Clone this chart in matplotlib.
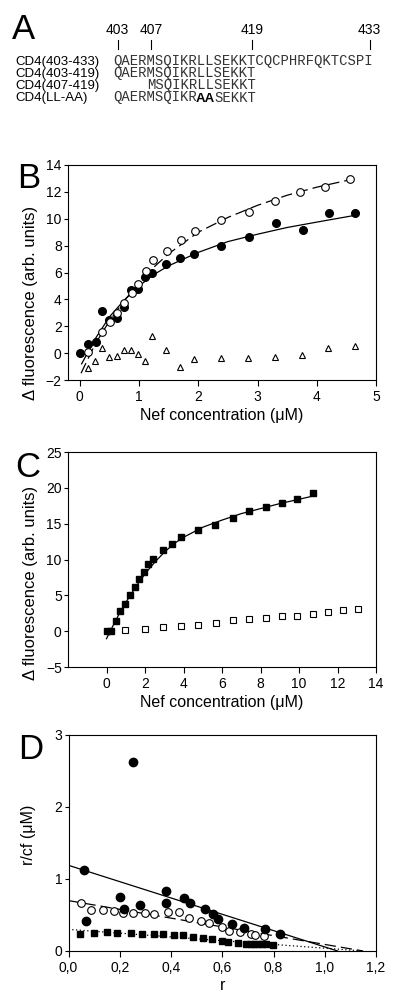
import matplotlib

matplotlib.use("Agg")
import matplotlib.pyplot as plt
from matplotlib.lines import Line2D

plt.rcParams["font.family"] = ["Liberation Sans", "DejaVu Sans"]

# ---- panel A: peptide sequences ----
seq_full = "QAERMSQIKRLLSEKKTCQCPHRFQKTCSPI"
seq_labels = ["CD4(403-433)", "CD4(403-419)", "CD4(407-419)", "CD4(LL-AA)"]
seq_starts = [403, 403, 407, 403]
seq_ends = [433, 419, 419, 419]
residue_marks = [403, 407, 419, 433]
mutated = [413, 414]  # LL -> AA in CD4(LL-AA)

# ---- panel B ----
b_filled_x = [0, 0.14, 0.27, 0.37, 0.50, 0.62, 0.74, 0.86, 0.98, 1.10, 1.22, 1.45,
              1.69, 1.92, 2.38, 2.85, 3.31, 3.76, 4.20, 4.64]
b_filled_y = [0, 0.7, 0.8, 3.1, 2.45, 2.65, 3.45, 4.7, 4.8, 5.65, 5.95, 6.65,
              7.1, 7.35, 8.0, 8.65, 9.7, 9.15, 10.4, 10.4]
b_open_x = [0.14, 0.38, 0.51, 0.63, 0.75, 0.88, 0.99, 1.11, 1.23, 1.47, 1.71, 1.95,
            2.39, 2.85, 3.29, 3.72, 4.14, 4.56]
b_open_y = [0.1, 1.6, 2.35, 3.0, 3.75, 4.5, 5.15, 6.1, 6.95, 7.6, 8.45, 9.1,
            9.9, 10.5, 11.3, 12.0, 12.35, 12.95]
b_tri_x = [0.13, 0.25, 0.37, 0.49, 0.62, 0.74, 0.86, 0.98, 1.10, 1.22, 1.46, 1.69,
           1.92, 2.39, 2.84, 3.30, 3.75, 4.19, 4.64]
b_tri_y = [-1.1, -0.55, 0.35, -0.3, -0.2, 0.25, 0.25, -0.05, -0.55, 1.25, 0.2, -1.0,
           -0.4, -0.35, -0.35, -0.3, -0.15, 0.4, 0.55]
b_fit_solid_x = [0.03, 0.25, 0.5, 0.75, 1.0, 1.25, 1.5, 2.0, 2.5, 3.0, 3.5, 4.0, 4.64]
b_fit_solid_y = [-0.8, 1.0, 2.7, 3.95, 5.0, 5.85, 6.5, 7.5, 8.3, 8.85, 9.35, 9.75, 10.25]
b_fit_dash_x = [0.02, 0.25, 0.5, 0.75, 1.0, 1.25, 1.5, 2.0, 2.5, 3.0, 3.5, 4.0, 4.56]
b_fit_dash_y = [-1.5, 0.6, 2.4, 3.9, 5.2, 6.4, 7.4, 9.0, 10.1, 11.0, 11.75, 12.35, 12.9]

# ---- panel C ----
c_filled_x = [0, 0.24, 0.48, 0.72, 0.96, 1.22, 1.46, 1.70, 1.94, 2.18, 2.44, 2.92,
              3.39, 3.85, 4.76, 5.66, 6.57, 7.41, 8.26, 9.10, 9.91, 10.72]
c_filled_y = [0, 0, 1.4, 2.8, 3.8, 5.1, 6.2, 7.3, 8.3, 9.35, 10.1, 11.3,
              12.15, 13.1, 14.1, 14.8, 15.8, 16.7, 17.3, 17.9, 18.5, 19.3]
c_open_x = [0.98, 1.98, 2.92, 3.85, 4.76, 5.68, 6.57, 7.41, 8.26, 9.10, 9.91, 10.72,
            11.51, 12.26, 13.04]
c_open_y = [0.1, 0.3, 0.6, 0.7, 0.85, 1.15, 1.6, 1.75, 1.9, 2.05, 2.1, 2.45,
            2.7, 2.95, 3.1]
c_fit_x = [0.0, 0.25, 0.5, 0.75, 1.0, 1.5, 2.0, 2.5, 3.0, 3.5, 4.0, 5.0, 6.0, 7.0,
           8.0, 9.0, 10.0, 10.72]
c_fit_y = [-1.05, 0.3, 1.6, 2.9, 4.0, 6.1, 8.0, 9.6, 11.0, 12.2, 13.1, 14.5, 15.5,
           16.4, 17.1, 17.8, 18.4, 18.85]

# ---- panel D: Scatchard ----
d_filled_x = [0.059, 0.070, 0.202, 0.217, 0.253, 0.279, 0.380, 0.381, 0.452, 0.474,
              0.531, 0.565, 0.583, 0.637, 0.686, 0.767, 0.824]
d_filled_y = [1.12, 0.42, 0.755, 0.58, 2.63, 0.64, 0.84, 0.67, 0.73, 0.66,
              0.59, 0.51, 0.44, 0.37, 0.315, 0.30, 0.23]
d_open_x = [0.048, 0.089, 0.133, 0.177, 0.214, 0.253, 0.297, 0.335, 0.388, 0.432,
            0.471, 0.516, 0.549, 0.598, 0.628, 0.671, 0.712, 0.728, 0.762]
d_open_y = [0.667, 0.565, 0.574, 0.556, 0.528, 0.523, 0.523, 0.509, 0.537, 0.542,
            0.458, 0.421, 0.394, 0.329, 0.28, 0.265, 0.23, 0.22, 0.205]
d_sq_x = [0.046, 0.098, 0.151, 0.191, 0.242, 0.285, 0.332, 0.368, 0.411, 0.445,
          0.487, 0.525, 0.560, 0.599, 0.624, 0.660, 0.693, 0.712, 0.725, 0.741,
          0.755, 0.771, 0.797]
d_sq_y = [0.24, 0.255, 0.26, 0.245, 0.245, 0.24, 0.236, 0.23, 0.222, 0.218,
          0.194, 0.18, 0.167, 0.139, 0.12, 0.11, 0.10, 0.10, 0.10, 0.095,
          0.095, 0.095, 0.08]
d_solid_x = [0.0, 1.05]
d_solid_y = [1.19, 0.0]
d_dash_x = [0.0, 1.15]
d_dash_y = [0.70, 0.0]
d_dot_x = [0.0, 1.15]
d_dot_y = [0.30, 0.0]
d_xticks = [0.0, 0.2, 0.4, 0.6, 0.8, 1.0, 1.2]
d_xticklabels = ["0,0", "0,2", "0,4", "0,6", "0,8", "1,0", "1,2"]

W, H = 400, 1000


def fx(px):
    return px / W


def fy(py):
    return 1 - py / H


def style_axes(ax):
    for sp in ax.spines.values():
        sp.set_linewidth(0.8)
    ax.tick_params(axis="x", direction="out", length=4, width=0.8, pad=3,
                   labelsize=10, top=False)
    ax.tick_params(axis="y", direction="out", length=3, width=0.8, pad=1.5,
                   labelsize=10, right=False)


fig = plt.figure(figsize=(4, 10), dpi=100)

# panel A
fig.text(fx(12), fy(13), "A", fontsize=25, va="top", ha="left")
x0, cw = 113.3, 8.4
mono = dict(fontsize=10, family="Liberation Mono", color="#333333", va="baseline")
for r in residue_marks:
    cx = x0 + (r - 403 + 0.5) * cw
    fig.text(fx(cx), fy(30), str(r), fontsize=10, ha="center", va="center")
    fig.add_artist(Line2D([fx(cx), fx(cx)], [fy(40), fy(49)], color="black",
                          linewidth=0.8, transform=fig.transFigure))
row_base = [65.5, 77.5, 89.5, 101.5]
for label, start, end, ry in zip(seq_labels, seq_starts, seq_ends, row_base):
    fig.text(fx(15), fy(ry), label, fontsize=9.5, ha="left", va="baseline")
    seq = seq_full[start - 403:end - 403 + 1]
    if label == "CD4(LL-AA)":
        i0, i1 = mutated[0] - 403, mutated[-1] - 403
        fig.text(fx(x0), fy(ry), seq[:i0], ha="left", **mono)
        fig.text(fx(x0 + (i0 + 1) * cw), fy(ry), "AA", fontsize=9.5,
                 fontweight="bold", ha="center", va="baseline")
        fig.text(fx(x0 + (i1 + 1) * cw), fy(ry), seq[i1 + 1:], ha="left", **mono)
    else:
        fig.text(fx(x0 + (start - 403) * cw), fy(ry), seq, ha="left", **mono)

# panel B
axb = fig.add_axes([fx(68), fy(380), fx(376) - fx(68), fy(165) - fy(380)])
axb.plot(b_fit_solid_x, b_fit_solid_y, color="black", linewidth=0.9)
axb.plot(b_fit_dash_x, b_fit_dash_y, color="black", linewidth=0.9,
         dashes=(9, 4))
axb.plot(b_filled_x, b_filled_y, "o", color="black", markersize=5.5)
axb.plot(b_open_x, b_open_y, "o", markerfacecolor="white", markeredgecolor="black",
         markeredgewidth=0.8, markersize=5.5)
axb.plot(b_tri_x, b_tri_y, "^", markerfacecolor="white", markeredgecolor="black",
         markeredgewidth=0.8, markersize=5)
axb.set_xlim(-0.2, 5)
axb.set_ylim(-2, 14)
axb.set_xticks([0, 1, 2, 3, 4, 5])
axb.set_yticks(range(-2, 15, 2))
axb.set_xlabel("Nef concentration (\u03bcM)", fontsize=11.5, labelpad=3)
style_axes(axb)
fig.text(fx(17), fy(162), "B", fontsize=25, va="top", ha="left")
fig.text(fx(31), fy(303), "\u0394 fluorescence (arb. units)", fontsize=12,
         rotation=90, ha="center", va="center")

# panel C
axc = fig.add_axes([fx(68), fy(667), fx(376) - fx(68), fy(452) - fy(667)])
axc.plot(c_fit_x, c_fit_y, color="black", linewidth=0.9)
axc.plot(c_filled_x, c_filled_y, "s", color="black", markersize=5)
axc.plot(c_open_x, c_open_y, "s", markerfacecolor="white", markeredgecolor="black",
         markeredgewidth=0.8, markersize=4.5)
axc.set_xlim(-2, 14)
axc.set_ylim(-5, 25)
axc.set_xticks(range(0, 15, 2))
axc.set_yticks(range(-5, 26, 5))
axc.set_xlabel("Nef concentration (\u03bcM)", fontsize=11.5, labelpad=3)
style_axes(axc)
fig.text(fx(15), fy(451), "C", fontsize=25, va="top", ha="left")
fig.text(fx(31), fy(583), "\u0394 fluorescence (arb. units)", fontsize=12,
         rotation=90, ha="center", va="center")

# panel D
axd = fig.add_axes([fx(68.5), fy(951), fx(376) - fx(68.5), fy(735) - fy(951)])
axd.plot(d_solid_x, d_solid_y, color="black", linewidth=0.9)
axd.plot(d_dash_x, d_dash_y, color="black", linewidth=0.9, dashes=(9, 4))
axd.plot(d_dot_x, d_dot_y, color="black", linewidth=0.9, dashes=(1, 2))
axd.plot(d_sq_x, d_sq_y, "s", color="black", markersize=5)
axd.plot(d_open_x, d_open_y, "o", markerfacecolor="white", markeredgecolor="black",
         markeredgewidth=0.8, markersize=5.5)
axd.plot(d_filled_x, d_filled_y, "o", color="black", markersize=6)
axd.set_xlim(0, 1.2)
axd.set_ylim(0, 3)
axd.set_xticks(d_xticks)
axd.set_xticklabels(d_xticklabels)
axd.set_yticks([0, 1, 2, 3])
axd.set_xlabel("r", fontsize=11.5, labelpad=2)
style_axes(axd)
fig.text(fx(18), fy(733), "D", fontsize=25, va="top", ha="left")
fig.text(fx(28), fy(835), "r/cf (\u03bcM)", fontsize=11.5, rotation=90,
         ha="center", va="center")

fig.savefig("out.png", dpi=100)
